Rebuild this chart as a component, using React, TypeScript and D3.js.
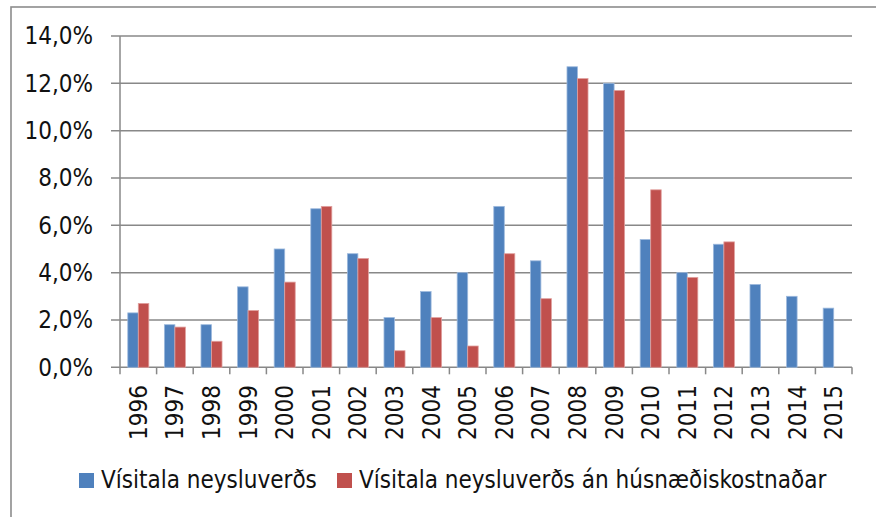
import * as d3 from 'd3'

const years = ['1996', '1997', '1998', '1999', '2000', '2001', '2002', '2003', '2004', '2005', '2006', '2007', '2008', '2009', '2010', '2011', '2012', '2013', '2014', '2015']
const cpi = [2.3, 1.8, 1.8, 3.4, 5.0, 6.7, 4.8, 2.1, 3.2, 4.0, 6.8, 4.5, 12.7, 12.0, 5.4, 4.0, 5.2, 3.5, 3.0, 2.5]
const cpiNoHousing = [2.7, 1.7, 1.1, 2.4, 3.6, 6.8, 4.6, 0.7, 2.1, 0.9, 4.8, 2.9, 12.2, 11.7, 7.5, 3.8, 5.3, null, null, null]
const yTicks = [0, 2, 4, 6, 8, 10, 12, 14]
const seriesNames = ['Vísitala neysluverðs', 'Vísitala neysluverðs án húsnæðiskostnaðar']
const colors = ['#4F81BD', '#C0504D']
const edges = ['#9DB9DD', '#E0A09E']

const width = 876
const height = 517
const marginLeft = 120
const marginRight = 24
const marginTop = 36
const plotBottom = 367.3
const font = '"Liberation Sans Narrow", "DejaVu Sans Condensed", sans-serif'

export default function App() {
	// Шкалы
	const x = d3.scaleBand<string>().domain(years).range([marginLeft, width - marginRight])
	const inner = d3.scaleBand<number>().domain([0, 1]).range([0, x.bandwidth()]).paddingInner(0).paddingOuter(0.74)
	const y = d3.scaleLinear().domain([0, 14]).range([plotBottom, marginTop])

	const series = [cpi, cpiNoHousing]
	const legendX = [79, 337]

	return (
		<svg width={width} height={height} style={{ position: 'absolute', left: 0, top: 0 }} fontFamily={font}>
			<rect x={0} y={0} width={width} height={height} fill="#fff" />
			{/* рамка */}
			<rect x={11} y={7} width={width + 10} height={height + 10} fill="none" stroke="#8c8c8c" strokeWidth={1.6} />

			{yTicks.map((t) => (
				<g key={t}>
					<line x1={marginLeft - 9} x2={width - marginRight} y1={y(t)} y2={y(t)} stroke="#888" strokeWidth={1.5} />
					<text x={93} y={y(t)} dy="0.35em" textAnchor="end" fontSize={24} fill="#111">
						{t.toFixed(1).replace('.', ',')}%
					</text>
				</g>
			))}
			<line x1={marginLeft} x2={marginLeft} y1={marginTop} y2={plotBottom + 7} stroke="#888" strokeWidth={1.5} />
			{years.map((yr) => (
				<line key={'t' + yr} x1={x(yr)! + x.bandwidth()} x2={x(yr)! + x.bandwidth()} y1={plotBottom} y2={plotBottom + 7} stroke="#888" strokeWidth={1.5} />
			))}

			{series.map((vals, si) =>
				vals.map((v, i) =>
					v == null ? null : (
						<rect
							key={si + '-' + i}
							x={x(years[i])! + inner(si)!}
							y={y(v)}
							width={inner.bandwidth()}
							height={y(0) - y(v)}
							fill={colors[si]}
							stroke={edges[si]}
							strokeWidth={0.8}
						/>
					)
				)
			)}

			{years.map((yr) => (
				<text
					key={'l' + yr}
					transform={`translate(${x(yr)! + x.bandwidth() / 2},385) rotate(-90)`}
					textAnchor="end"
					dy="0.35em"
					fontSize={24}
					fill="#111"
				>
					{yr}
				</text>
			))}

			{seriesNames.map((n, si) => (
				<g key={n}>
					<rect x={legendX[si]} y={473} width={15} height={15} fill={colors[si]} />
					<text x={legendX[si] + 22} y={480} dy="0.35em" fontSize={24} fill="#111">
						{n}
					</text>
				</g>
			))}
		</svg>
	)
}
